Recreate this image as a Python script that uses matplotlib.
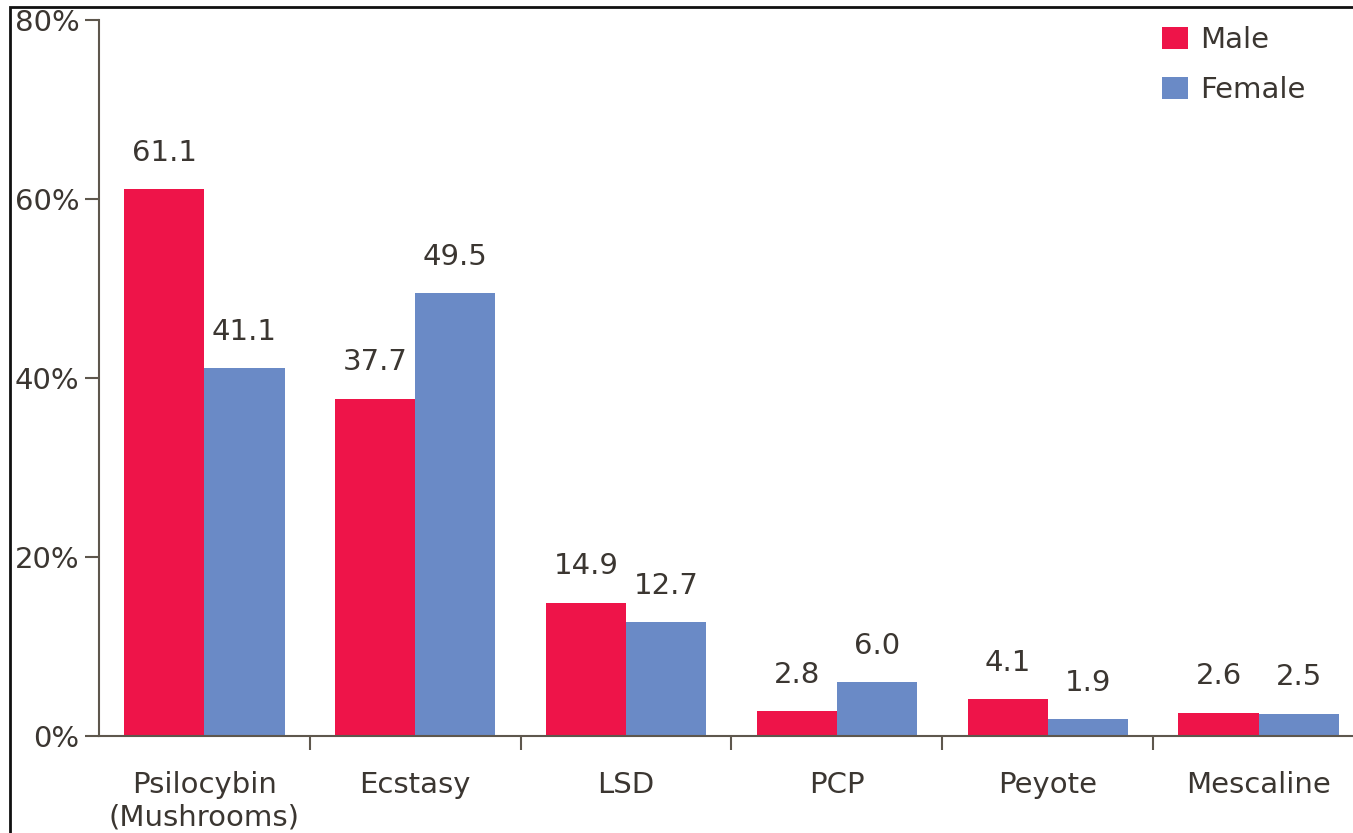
import matplotlib
matplotlib.use("Agg")
import matplotlib.pyplot as plt
import numpy as np
from matplotlib.patches import Rectangle

categories = ["Psilocybin\n(Mushrooms)", "Ecstasy", "LSD", "PCP", "Peyote", "Mescaline"]
male = [61.1, 37.7, 14.9, 2.8, 4.1, 2.6]
female = [41.1, 49.5, 12.7, 6.0, 1.9, 2.5]
male_labels = ["61.1", "37.7", "14.9", "2.8", "4.1", "2.6"]
female_labels = ["41.1", "49.5", "12.7", "6.0", "1.9", "2.5"]
yticks = [0, 20, 40, 60, 80]
ytick_labels = ["0%", "20%", "40%", "60%", "80%"]

plt.rcParams['font.family'] = ['DejaVu Sans']
FS = 21
text_color = "#3b3631"
axis_color = "#5e574d"
male_color = "#ee1449"
female_color = "#6a8ac6"

fig = plt.figure(figsize=(13.53, 8.33), dpi=100)
W, H = 1353, 833
ax = fig.add_axes([99 / W, (H - 736) / H, 1265 / W, 716 / H])

x = np.arange(len(categories))
bw = 0.38
ax.bar(x - bw / 2, male, bw, color=male_color, label="Male")
ax.bar(x + bw / 2, female, bw, color=female_color, label="Female")

for xi, v, s in zip(x, male, male_labels):
    ax.text(xi - bw / 2, v + 2.5, s, ha="center", va="bottom", fontsize=FS, color=text_color)
for xi, v, s in zip(x, female, female_labels):
    ax.text(xi + bw / 2, v + 2.5, s, ha="center", va="bottom", fontsize=FS, color=text_color)

ax.set_xlim(-0.5, len(categories) - 0.5)
ax.set_ylim(0, 80)
ax.set_yticks(yticks)
ax.set_yticklabels(ytick_labels, fontsize=FS, color=text_color)
ax.set_xticks(x)
ax.set_xticklabels(categories, fontsize=FS, color=text_color, linespacing=1.2)
ax.set_xticks(np.arange(0.5, len(categories) - 0.5, 1), minor=True)
ax.tick_params(axis="x", which="major", length=0, pad=25)
ax.tick_params(axis="x", which="minor", length=10, width=1.5, color=axis_color, direction="out")
ax.tick_params(axis="y", which="major", length=10, width=1.5, color=axis_color, pad=4)
for sp in ["top", "right"]:
    ax.spines[sp].set_visible(False)
for sp in ["left", "bottom"]:
    ax.spines[sp].set_color(axis_color)
    ax.spines[sp].set_linewidth(1.5)

leg = ax.legend(loc="upper left", bbox_to_anchor=(1162 / W, (H - 26) / H), bbox_transform=fig.transFigure,
                frameon=False, fontsize=FS, handlelength=0.9, handleheight=0.8,
                handletextpad=0.4, labelspacing=0.75, borderaxespad=0, borderpad=0)
for t in leg.get_texts():
    t.set_color(text_color)

# figure border (left and top visible)
fig.add_artist(Rectangle((10 / W, -0.1), 1.2, (H - 7) / H + 0.1, transform=fig.transFigure,
                         fill=False, edgecolor="#111111", linewidth=2))

fig.savefig("out.png", dpi=100)
